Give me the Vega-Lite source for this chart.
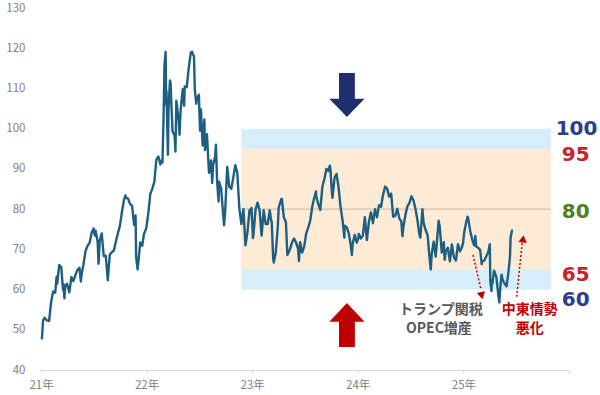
{
  "$schema": "https://vega.github.io/schema/vega-lite/v6.json",
  "width": 528,
  "height": 362,
  "autosize": {"type": "none"},
  "padding": {"left": 41, "top": 8, "right": 31, "bottom": 25},
  "background": "white",
  "config": {"view": {"stroke": null}},
  "datasets": {
    "price": [
      {"d":"2021-01-04","v":47.6},{"d":"2021-01-08","v":52.2},{"d":"2021-01-13","v":53.0},{"d":"2021-01-22","v":52.3},{"d":"2021-01-29","v":52.2},
      {"d":"2021-02-05","v":56.9},{"d":"2021-02-12","v":59.5},{"d":"2021-02-19","v":59.2},{"d":"2021-02-24","v":63.2},{"d":"2021-02-26","v":61.5},
      {"d":"2021-03-05","v":66.1},{"d":"2021-03-12","v":65.6},{"d":"2021-03-18","v":60.0},{"d":"2021-03-19","v":61.4},{"d":"2021-03-23","v":57.8},{"d":"2021-03-26","v":60.97},
      {"d":"2021-04-01","v":61.45},{"d":"2021-04-09","v":59.3},{"d":"2021-04-16","v":63.1},{"d":"2021-04-23","v":62.1},{"d":"2021-04-30","v":63.6},
      {"d":"2021-05-07","v":64.9},{"d":"2021-05-14","v":65.4},{"d":"2021-05-19","v":62.0},{"d":"2021-05-21","v":63.6},{"d":"2021-05-28","v":66.3},
      {"d":"2021-06-04","v":69.6},{"d":"2021-06-11","v":70.9},{"d":"2021-06-18","v":71.6},{"d":"2021-06-25","v":74.05},
      {"d":"2021-07-02","v":75.2},{"d":"2021-07-06","v":73.4},{"d":"2021-07-09","v":74.6},{"d":"2021-07-16","v":71.8},{"d":"2021-07-19","v":66.4},{"d":"2021-07-23","v":72.1},{"d":"2021-07-30","v":73.95},
      {"d":"2021-08-06","v":68.3},{"d":"2021-08-13","v":68.4},{"d":"2021-08-20","v":62.3},{"d":"2021-08-27","v":68.7},
      {"d":"2021-09-03","v":69.3},{"d":"2021-09-10","v":69.7},{"d":"2021-09-17","v":71.97},{"d":"2021-09-24","v":73.98},
      {"d":"2021-10-01","v":75.9},{"d":"2021-10-08","v":79.35},{"d":"2021-10-15","v":82.3},{"d":"2021-10-20","v":83.4},{"d":"2021-10-22","v":82.8},{"d":"2021-10-29","v":82.6},
      {"d":"2021-11-05","v":81.3},{"d":"2021-11-12","v":80.8},{"d":"2021-11-19","v":76.1},{"d":"2021-11-24","v":78.4},{"d":"2021-11-26","v":68.15},
      {"d":"2021-12-01","v":65.0},{"d":"2021-12-03","v":66.3},{"d":"2021-12-10","v":71.7},{"d":"2021-12-17","v":70.9},{"d":"2021-12-23","v":73.8},{"d":"2021-12-31","v":75.2},
      {"d":"2022-01-07","v":78.9},{"d":"2022-01-14","v":83.8},{"d":"2022-01-21","v":85.1},{"d":"2022-01-28","v":86.8},
      {"d":"2022-02-04","v":92.3},{"d":"2022-02-11","v":93.1},{"d":"2022-02-18","v":91.1},{"d":"2022-02-23","v":92.1},{"d":"2022-02-25","v":91.6},
      {"d":"2022-03-01","v":103.4},{"d":"2022-03-04","v":115.7},{"d":"2022-03-08","v":119.1},{"d":"2022-03-10","v":106.0},{"d":"2022-03-11","v":109.3},{"d":"2022-03-15","v":96.4},{"d":"2022-03-16","v":93.5},{"d":"2022-03-18","v":104.7},{"d":"2022-03-23","v":112.0},{"d":"2022-03-25","v":111.5},{"d":"2022-03-29","v":104.2},
      {"d":"2022-04-01","v":99.3},{"d":"2022-04-08","v":98.3},{"d":"2022-04-11","v":94.3},{"d":"2022-04-14","v":106.95},{"d":"2022-04-22","v":102.1},{"d":"2022-04-25","v":98.5},{"d":"2022-04-29","v":104.7},
      {"d":"2022-05-06","v":109.8},{"d":"2022-05-11","v":105.7},{"d":"2022-05-13","v":110.5},{"d":"2022-05-20","v":110.3},{"d":"2022-05-27","v":115.1},
      {"d":"2022-06-03","v":118.9},{"d":"2022-06-08","v":119.1},{"d":"2022-06-10","v":118.5},{"d":"2022-06-14","v":118.0},{"d":"2022-06-17","v":109.6},{"d":"2022-06-22","v":106.2},{"d":"2022-06-24","v":107.6},
      {"d":"2022-07-01","v":108.4},{"d":"2022-07-05","v":99.5},{"d":"2022-07-08","v":104.8},{"d":"2022-07-14","v":95.8},{"d":"2022-07-15","v":97.6},{"d":"2022-07-20","v":102.3},{"d":"2022-07-22","v":94.7},{"d":"2022-07-29","v":98.6},
      {"d":"2022-08-05","v":89.0},{"d":"2022-08-12","v":92.1},{"d":"2022-08-16","v":86.5},{"d":"2022-08-19","v":90.8},{"d":"2022-08-26","v":93.1},{"d":"2022-08-29","v":96.0},
      {"d":"2022-09-02","v":86.9},{"d":"2022-09-07","v":81.9},{"d":"2022-09-09","v":86.8},{"d":"2022-09-16","v":85.1},{"d":"2022-09-23","v":78.7},{"d":"2022-09-26","v":76.0},{"d":"2022-09-30","v":79.5},
      {"d":"2022-10-07","v":90.5},{"d":"2022-10-14","v":85.6},{"d":"2022-10-21","v":85.05},{"d":"2022-10-28","v":87.9},
      {"d":"2022-11-04","v":90.9},{"d":"2022-11-11","v":88.96},{"d":"2022-11-18","v":80.1},{"d":"2022-11-25","v":76.3},
      {"d":"2022-12-02","v":79.98},{"d":"2022-12-09","v":71.0},{"d":"2022-12-16","v":74.3},{"d":"2022-12-23","v":79.6},{"d":"2022-12-30","v":80.3},
      {"d":"2023-01-04","v":72.8},{"d":"2023-01-06","v":73.8},{"d":"2023-01-13","v":79.9},{"d":"2023-01-20","v":81.6},{"d":"2023-01-27","v":79.7},
      {"d":"2023-02-03","v":73.4},{"d":"2023-02-10","v":79.7},{"d":"2023-02-17","v":76.3},{"d":"2023-02-24","v":76.3},
      {"d":"2023-03-03","v":79.7},{"d":"2023-03-07","v":77.6},{"d":"2023-03-10","v":76.7},{"d":"2023-03-15","v":67.6},{"d":"2023-03-17","v":66.7},{"d":"2023-03-24","v":69.3},{"d":"2023-03-31","v":75.7},
      {"d":"2023-04-03","v":80.4},{"d":"2023-04-12","v":82.5},{"d":"2023-04-14","v":82.5},{"d":"2023-04-21","v":77.9},{"d":"2023-04-28","v":76.8},
      {"d":"2023-05-03","v":68.6},{"d":"2023-05-12","v":70.0},{"d":"2023-05-19","v":71.7},{"d":"2023-05-26","v":72.7},
      {"d":"2023-06-02","v":71.7},{"d":"2023-06-09","v":70.2},{"d":"2023-06-12","v":67.1},{"d":"2023-06-16","v":71.8},{"d":"2023-06-23","v":69.2},{"d":"2023-06-30","v":70.6},
      {"d":"2023-07-07","v":73.9},{"d":"2023-07-14","v":75.4},{"d":"2023-07-21","v":77.1},{"d":"2023-07-28","v":80.6},
      {"d":"2023-08-04","v":82.8},{"d":"2023-08-10","v":84.4},{"d":"2023-08-11","v":83.2},{"d":"2023-08-18","v":81.25},{"d":"2023-08-25","v":79.8},
      {"d":"2023-09-01","v":85.55},{"d":"2023-09-08","v":87.5},{"d":"2023-09-15","v":90.0},{"d":"2023-09-22","v":89.5},{"d":"2023-09-27","v":90.8},{"d":"2023-09-29","v":89.8},
      {"d":"2023-10-04","v":84.2},{"d":"2023-10-06","v":82.8},{"d":"2023-10-13","v":87.7},{"d":"2023-10-20","v":88.75},{"d":"2023-10-27","v":85.5},
      {"d":"2023-11-03","v":80.5},{"d":"2023-11-10","v":77.2},{"d":"2023-11-16","v":72.9},{"d":"2023-11-17","v":75.9},{"d":"2023-11-24","v":75.5},
      {"d":"2023-12-01","v":74.1},{"d":"2023-12-08","v":71.2},{"d":"2023-12-12","v":68.6},{"d":"2023-12-15","v":71.4},{"d":"2023-12-22","v":73.6},{"d":"2023-12-29","v":71.65},
      {"d":"2024-01-03","v":72.7},{"d":"2024-01-05","v":73.8},{"d":"2024-01-12","v":72.7},{"d":"2024-01-19","v":73.4},{"d":"2024-01-26","v":78.0},
      {"d":"2024-02-02","v":72.3},{"d":"2024-02-09","v":76.8},{"d":"2024-02-16","v":79.2},{"d":"2024-02-23","v":76.5},
      {"d":"2024-03-01","v":79.97},{"d":"2024-03-08","v":78.0},{"d":"2024-03-15","v":81.0},{"d":"2024-03-22","v":80.6},{"d":"2024-03-28","v":83.2},
      {"d":"2024-04-05","v":85.6},{"d":"2024-04-12","v":85.1},{"d":"2024-04-19","v":83.1},{"d":"2024-04-26","v":83.85},
      {"d":"2024-05-03","v":78.1},{"d":"2024-05-10","v":78.3},{"d":"2024-05-17","v":80.1},{"d":"2024-05-24","v":77.7},{"d":"2024-05-31","v":77.0},
      {"d":"2024-06-04","v":73.25},{"d":"2024-06-07","v":75.5},{"d":"2024-06-14","v":78.45},{"d":"2024-06-21","v":80.7},{"d":"2024-06-28","v":81.5},
      {"d":"2024-07-05","v":83.2},{"d":"2024-07-12","v":82.2},{"d":"2024-07-19","v":80.1},{"d":"2024-07-26","v":77.2},
      {"d":"2024-08-02","v":73.5},{"d":"2024-08-05","v":72.9},{"d":"2024-08-09","v":76.8},{"d":"2024-08-12","v":80.0},{"d":"2024-08-16","v":76.65},{"d":"2024-08-23","v":74.8},{"d":"2024-08-30","v":73.55},
      {"d":"2024-09-06","v":67.7},{"d":"2024-09-10","v":65.0},{"d":"2024-09-13","v":68.65},{"d":"2024-09-20","v":71.9},{"d":"2024-09-27","v":68.2},
      {"d":"2024-10-04","v":74.4},{"d":"2024-10-07","v":77.1},{"d":"2024-10-11","v":75.6},{"d":"2024-10-18","v":69.2},{"d":"2024-10-25","v":71.8},{"d":"2024-10-28","v":67.4},
      {"d":"2024-11-01","v":69.5},{"d":"2024-11-08","v":70.4},{"d":"2024-11-15","v":67.0},{"d":"2024-11-22","v":71.2},{"d":"2024-11-29","v":68.0},
      {"d":"2024-12-06","v":67.2},{"d":"2024-12-13","v":71.3},{"d":"2024-12-20","v":69.5},{"d":"2024-12-27","v":70.6},{"d":"2024-12-31","v":71.7},
      {"d":"2025-01-03","v":73.96},{"d":"2025-01-10","v":76.6},{"d":"2025-01-15","v":78.1},{"d":"2025-01-17","v":77.9},{"d":"2025-01-24","v":74.7},{"d":"2025-01-31","v":72.5},
      {"d":"2025-02-07","v":71.0},{"d":"2025-02-11","v":73.3},{"d":"2025-02-14","v":70.7},{"d":"2025-02-21","v":70.4},{"d":"2025-02-28","v":69.8},
      {"d":"2025-03-05","v":66.3},{"d":"2025-03-07","v":67.0},{"d":"2025-03-14","v":67.2},{"d":"2025-03-21","v":68.3},{"d":"2025-03-28","v":69.4},
      {"d":"2025-04-02","v":71.3},{"d":"2025-04-04","v":62.0},{"d":"2025-04-08","v":59.6},{"d":"2025-04-09","v":62.35},{"d":"2025-04-11","v":61.5},{"d":"2025-04-17","v":64.7},{"d":"2025-04-25","v":63.0},
      {"d":"2025-05-02","v":58.3},{"d":"2025-05-05","v":56.8},{"d":"2025-05-09","v":61.0},{"d":"2025-05-13","v":63.7},{"d":"2025-05-16","v":62.5},{"d":"2025-05-23","v":61.5},{"d":"2025-05-30","v":60.8},
      {"d":"2025-06-06","v":64.6},{"d":"2025-06-11","v":68.2},{"d":"2025-06-13","v":72.98},{"d":"2025-06-18","v":74.7},{"d":"2025-06-20","v":74.6}
    ],
    "labels": [
      {"d":"2025-11-16","v":100.0,"t":"100","c":"上限"},
      {"d":"2025-12-07","v":93.5,"t":"95","c":"中"},
      {"d":"2025-12-07","v":79.3,"t":"80","c":"中心"},
      {"d":"2025-12-07","v":63.6,"t":"65","c":"中"},
      {"d":"2025-12-07","v":57.5,"t":"60","c":"上限"}
    ]
  },
  "layer": [
    {
      "data": {"values": [{"s":"2022-11-25","e":"2025-10-31","lo":60,"hi":100}]},
      "mark": {"type": "rect", "color": "#d7eefa"},
      "encoding": {
        "x": {"field": "s", "type": "temporal", "title": null,
          "scale": {"type": "utc", "domain": [{"year":2021,"month":1,"date":1,"utc":true},{"year":2026,"month":1,"date":1,"utc":true}]},
          "axis": {
            "title": null, "grid": false,
            "values": [{"year":2021,"month":1,"date":1,"utc":true},{"year":2022,"month":1,"date":1,"utc":true},{"year":2023,"month":1,"date":1,"utc":true},{"year":2024,"month":1,"date":1,"utc":true},{"year":2025,"month":1,"date":1,"utc":true},{"year":2026,"month":1,"date":1,"utc":true}],
            "labelExpr": "utcyear(datum.value) >= 2026 ? '' : utcFormat(datum.value, '%y') + '年'",
            "domainColor": "#d9d9d9", "tickColor": "#d9d9d9", "tickSize": 3,
            "labelColor": "#808080", "labelFont": "Noto Sans CJK JP", "labelFontSize": 11.5, "labelPadding": 6,
            "labelFlush": false, "labelOverlap": false
          }
        },
        "x2": {"field": "e"},
        "y": {"field": "lo", "type": "quantitative", "title": null,
          "scale": {"domain": [40, 130], "nice": false, "zero": false},
          "axis": {
            "title": null, "grid": false, "domain": false, "ticks": false,
            "values": [40,50,60,70,80,90,100,110,120,130],
            "labelColor": "#808080", "labelFont": "Noto Sans CJK JP", "labelFontSize": 11.5, "labelPadding": 16
          }
        },
        "y2": {"field": "hi"}
      }
    },
    {
      "data": {"values": [{"s":"2022-11-25","e":"2025-10-31","lo":65,"hi":95}]},
      "mark": {"type": "rect", "color": "#fdebd6"},
      "encoding": {
        "x": {"field": "s", "type": "temporal", "title": null},
        "x2": {"field": "e"},
        "y": {"field": "lo", "type": "quantitative", "title": null},
        "y2": {"field": "hi"}
      }
    },
    {
      "data": {"values": [{"s":"2022-11-25","e":"2025-10-31","v":80}]},
      "mark": {"type": "rule", "color": "#c9b8a4", "strokeWidth": 1},
      "encoding": {
        "x": {"field": "s", "type": "temporal", "title": null},
        "x2": {"field": "e"},
        "y": {"field": "v", "type": "quantitative", "title": null}
      }
    },
    {
      "data": {"name": "price"},
      "mark": {"type": "line", "color": "#1d5f82", "strokeWidth": 2.4, "strokeJoin": "round"},
      "encoding": {
        "x": {"field": "d", "type": "temporal", "title": null},
        "y": {"field": "v", "type": "quantitative", "title": null}
      }
    },
    {
      "data": {"values": [{"d":"2023-11-25","v":108.4}]},
      "mark": {"type": "point", "filled": true, "opacity": 1, "color": "#1f2f6e", "size": 1936,
        "shape": "M-0.36,-1 L0.36,-1 L0.36,0.18 L0.8,0.18 L0,1 L-0.8,0.18 L-0.36,0.18 Z"},
      "encoding": {
        "x": {"field": "d", "type": "temporal", "title": null},
        "y": {"field": "v", "type": "quantitative", "title": null}
      }
    },
    {
      "data": {"values": [{"d":"2023-11-25","v":51.2}]},
      "mark": {"type": "point", "filled": true, "opacity": 1, "color": "#c00000", "size": 1936,
        "shape": "M-0.36,1 L0.36,1 L0.36,-0.14 L0.8,-0.14 L0,-1 L-0.8,-0.14 L-0.36,-0.14 Z"},
      "encoding": {
        "x": {"field": "d", "type": "temporal", "title": null},
        "y": {"field": "v", "type": "quantitative", "title": null}
      }
    },
    {
      "data": {"values": [
        {"d":"2025-02-03","v":68.6,"d2":"2025-03-03","v2":59.9},
        {"d":"2025-07-04","v":58.2,"d2":"2025-07-23","v2":71.6}
      ]},
      "mark": {"type": "rule", "color": "#c00000", "strokeWidth": 1.5, "strokeDash": [2, 2]},
      "encoding": {
        "x": {"field": "d", "type": "temporal", "title": null},
        "x2": {"field": "d2"},
        "y": {"field": "v", "type": "quantitative", "title": null},
        "y2": {"field": "v2"}
      }
    },
    {
      "data": {"values": [{"d":"2025-03-05","v":58.5}]},
      "mark": {"type": "point", "filled": true, "opacity": 1, "color": "#c00000", "size": 70, "shape": "triangle-down", "angle": 347.5},
      "encoding": {
        "x": {"field": "d", "type": "temporal", "title": null},
        "y": {"field": "v", "type": "quantitative", "title": null}
      }
    },
    {
      "data": {"values": [{"d":"2025-07-26","v":72.6}]},
      "mark": {"type": "point", "filled": true, "opacity": 1, "color": "#c00000", "size": 70, "shape": "triangle-up", "angle": 6},
      "encoding": {
        "x": {"field": "d", "type": "temporal", "title": null},
        "y": {"field": "v", "type": "quantitative", "title": null}
      }
    },
    {
      "data": {"values": [
        {"d":"2024-10-15","v":54.9,"t":"トランプ関税"},
        {"d":"2024-10-08","v":50.2,"t":"OPEC増産"}
      ]},
      "mark": {"type": "text", "color": "#595959", "font": "Noto Sans CJK JP", "fontWeight": "bold", "fontSize": 14, "align": "center", "baseline": "middle"},
      "encoding": {
        "x": {"field": "d", "type": "temporal", "title": null},
        "y": {"field": "v", "type": "quantitative", "title": null},
        "text": {"field": "t"}
      }
    },
    {
      "data": {"values": [
        {"d":"2025-08-18","v":54.9,"t":"中東情勢"},
        {"d":"2025-08-18","v":50.2,"t":"悪化"}
      ]},
      "mark": {"type": "text", "color": "#c00000", "font": "Noto Sans CJK JP", "fontWeight": "bold", "fontSize": 14, "align": "center", "baseline": "middle"},
      "encoding": {
        "x": {"field": "d", "type": "temporal", "title": null},
        "y": {"field": "v", "type": "quantitative", "title": null},
        "text": {"field": "t"}
      }
    },
    {
      "data": {"name": "labels"},
      "mark": {"type": "text", "font": "DejaVu Sans", "fontWeight": "bold", "fontSize": 20, "align": "left", "baseline": "middle"},
      "encoding": {
        "x": {"field": "d", "type": "temporal", "title": null},
        "y": {"field": "v", "type": "quantitative", "title": null},
        "text": {"field": "t"},
        "color": {"field": "c", "type": "nominal", "legend": null,
          "scale": {"domain": ["上限", "中", "中心"], "range": ["#2b3d8f", "#c8232c", "#4f7f1f"]}}
      }
    }
  ]
}
